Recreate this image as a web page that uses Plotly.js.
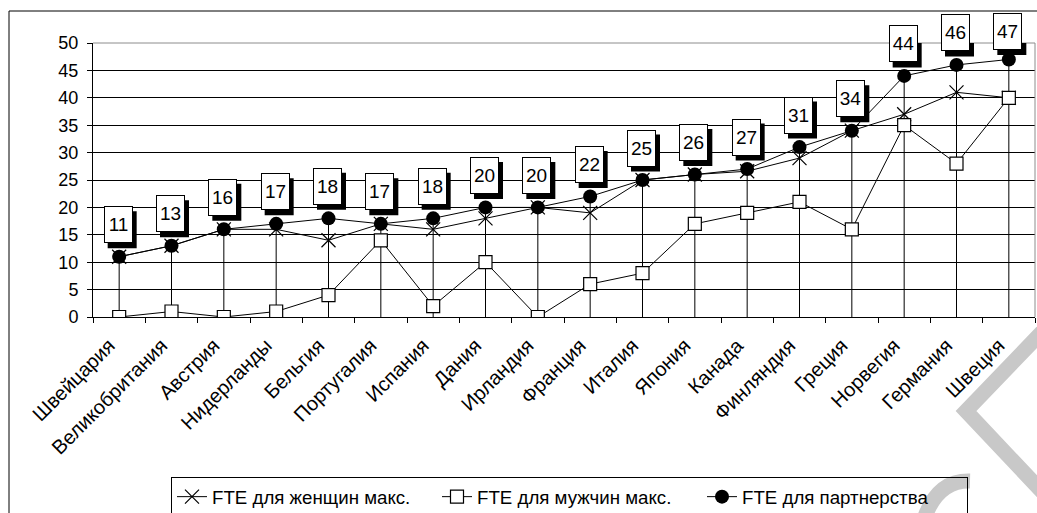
<!DOCTYPE html>
<html>
<head>
<meta charset="utf-8">
<script src="https://cdn.plot.ly/plotly-3.0.1.min.js"></script>
<style>html,body{margin:0;padding:0;background:#fff;}#chart{width:1037px;height:513px;}</style>
</head>
<body>
<div id="chart"></div>
<script>
const categories = ["Швейцария","Великобритания","Австрия","Нидерланды","Бельгия","Португалия","Испания","Дания","Ирландия","Франция","Италия","Япония","Канада","Финляндия","Греция","Норвегия","Германия","Швеция"];
const womenMax = [11,13,16,16,14,17,16,18,20,19,25,26,26.6,29,34,37,41,40];
const menMax = [0,1,0,1,4,14,2,10,0,6,8,17,19,21,16,35,28,40];
const partnership = [11,13,16,17,18,17,18,20,20,22,25,26,27,31,34,44,46,47];
const seriesNames = ["FTE для женщин макс.","FTE для мужчин макс.","FTE для партнерства"];
const yTicks = [0,5,10,15,20,25,30,35,40,45,50];

// geometry helpers (pixel -> paper) for decoration only
const L = 93, R = 1035, T = 43, B = 317;
const px = v => (v - L) / (R - L);
const py = v => (B - v) / (B - T);
const FONT = "Arial, 'Liberation Sans', sans-serif";

// drop lines from highest series value to zero
const dropX = [], dropY = [];
categories.forEach((c, i) => {
  const top = Math.max(womenMax[i], menMax[i], partnership[i]);
  dropX.push(c, c, null);
  dropY.push(top, 0, null);
});

const traces = [
  {x: dropX, y: dropY, mode: "lines", line: {color: "#000", width: 1}, showlegend: false, hoverinfo: "skip"},
  {x: categories, y: womenMax, name: seriesNames[0], mode: "lines+markers",
   line: {color: "#000", width: 1},
   marker: {symbol: "x-thin-open", size: 14, color: "#000", line: {color: "#000", width: 1.2}}},
  {x: categories, y: menMax, name: seriesNames[1], mode: "lines+markers",
   line: {color: "#000", width: 1},
   marker: {symbol: "square", size: 13, color: "#fff", line: {color: "#000", width: 1.2}}},
  {x: categories, y: partnership, name: seriesNames[2], mode: "lines+markers",
   line: {color: "#000", width: 1},
   marker: {symbol: "circle", size: 14, color: "#000", line: {color: "#000", width: 0}}}
];

// data label boxes with drop shadow
const BW = 29, BH = 37;
const yToPx = v => T + (50 - v) * (B - T) / 50;
const labels = [], shadowShapes = [];
partnership.forEach((v, i) => {
  let ys = 32;
  const topPx = yToPx(v) - ys - BH / 2;
  if (topPx < 13) ys -= (13 - topPx);
  labels.push({x: categories[i], y: v, xref: "x", yref: "y", showarrow: false,
    text: String(v), xshift: -1, yshift: ys,
    width: BW - 4, height: BH - 4, borderpad: 1, borderwidth: 1, align: "center", valign: "middle",
    bgcolor: "#fff", bordercolor: "#000",
    font: {family: FONT, size: 19, color: "#000"}});
  shadowShapes.push({type: "rect", xref: "x", yref: "y", xsizemode: "pixel", ysizemode: "pixel",
    xanchor: categories[i], yanchor: v,
    x0: -1 - BW / 2 + 4, x1: -1 + BW / 2 + 4, y0: ys - BH / 2 - 5, y1: ys + BH / 2 - 5,
    fillcolor: "#000", line: {width: 0}, layer: "above"});
});

const shapes = [
  // chart frame
  {type: "rect", xref: "paper", yref: "paper", x0: px(9), y0: py(530), x1: px(1060), y1: py(11),
   line: {color: "#000", width: 1}, fillcolor: "rgba(0,0,0,0)", layer: "below"},
  // plot area border top/right (gray)
  {type: "path", xref: "paper", yref: "paper",
   path: `M ${px(93)},${py(43)} L ${px(1035)},${py(43)} L ${px(1035)},${py(317)}`,
   line: {color: "#8c8c8c", width: 1}, layer: "above"},
  // watermark strokes
  {type: "path", xref: "paper", yref: "paper",
   path: `M ${px(1042)},${py(332)} L ${px(966)},${py(411)} L ${px(1050)},${py(500)}`,
   line: {color: "#c8c8c8", width: 15}, layer: "below"},
  {type: "path", xref: "paper", yref: "paper",
   path: `M ${px(921)},${py(530)} Q ${px(933)},${py(480)} ${px(970)},${py(481)}`,
   line: {color: "#c8c8c8", width: 15}, layer: "below"}
].concat(shadowShapes);

const layout = {
  width: 1037, height: 513,
  margin: {l: L, r: 1037 - R, t: T, b: 513 - B, pad: 0, autoexpand: false},
  paper_bgcolor: "#fff", plot_bgcolor: "rgba(0,0,0,0)",
  font: {family: FONT, color: "#000"},
  showlegend: true,
  legend: {orientation: "h", x: px(171), xanchor: "left", y: py(477), yanchor: "top",
    bordercolor: "#000", borderwidth: 1, bgcolor: "rgba(255,255,255,0)",
    entrywidth: 220, entrywidthmode: "pixels",
    font: {family: FONT, size: 18.7, color: "#000"}, traceorder: "normal"},
  xaxis: {type: "category", categoryorder: "array", categoryarray: categories,
    range: [-0.5, categories.length - 0.5], automargin: false,
    tickson: "boundaries", ticks: "outside", ticklen: 5, tickcolor: "#000", tickwidth: 1,
    showline: true, linecolor: "#000", linewidth: 1, showgrid: false, zeroline: false,
    tickangle: -45, ticklabelstandoff: 8, ticklabelshift: -10,
    tickfont: {family: FONT, size: 20, color: "#000"}, fixedrange: true},
  yaxis: {range: [0, 50], tickvals: yTicks, ticktext: yTicks.map(String), automargin: false,
    ticks: "outside", ticklen: 5, tickcolor: "#000", tickwidth: 1,
    showline: true, linecolor: "#000", linewidth: 1,
    showgrid: true, gridcolor: "#000", gridwidth: 1, zeroline: false,
    ticklabelstandoff: 5,
    tickfont: {family: FONT, size: 18, color: "#000"}, fixedrange: true},
  annotations: labels,
  shapes: shapes
};

Plotly.newPlot("chart", traces, layout, {displayModeBar: false, staticPlot: true});
</script>
</body>
</html>
